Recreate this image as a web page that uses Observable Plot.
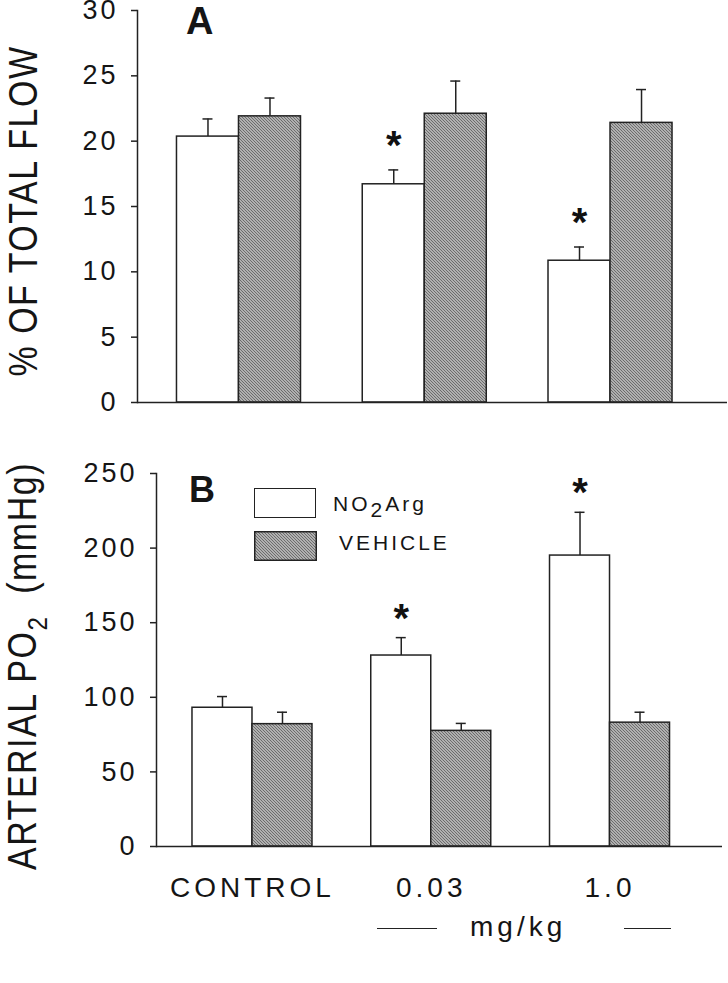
<!DOCTYPE html>
<html>
<head>
<meta charset="utf-8">
<script src="https://cdn.jsdelivr.net/npm/d3@7"></script>
<script src="https://cdn.jsdelivr.net/npm/@observablehq/plot@0.6"></script>
<style>
  html, body { margin: 0; padding: 0; background: #fff; }
  #root { position: relative; width: 728px; height: 983px; background: #fff; overflow: hidden;
          font-family: "Liberation Sans", Arial, Helvetica, sans-serif; color: #151515; }
  .panel { position: absolute; left: 0; }
  .panel svg { overflow: visible; }
  g[aria-label="y-axis tick label"] text { letter-spacing: 3px; }
  g[aria-label="x-axis tick label"] text { letter-spacing: 4px; }
  .abs { position: absolute; white-space: nowrap; }
  .ylab { position: absolute; font-size: 34px; letter-spacing: 1.5px; white-space: nowrap; line-height: 1;
          transform-origin: center center; }
  .panelLetter { position: absolute; font-weight: bold; font-size: 38px; line-height: 1; }
  .legText { position: absolute; font-size: 21px; letter-spacing: 3px; line-height: 1; }
</style>
</head>
<body>
<svg width="0" height="0" style="position:absolute">
  <defs>
    <pattern id="hatch" patternUnits="userSpaceOnUse" width="3" height="3">
      <rect width="3" height="3" fill="#b0b0b0"></rect>
      <path d="M-1,-1 L1,1 M0,0 L3,3 M2,2 L4,4" stroke="#6a6a6a" stroke-width="0.9"></path>
    </pattern>
  </defs>
</svg>
<div id="root"></div>
<script>
// ---------- data ----------
const categories = ["CONTROL", "0.03", "1.0"];
const seriesNames = ["NO2Arg", "VEHICLE"];

// Panel A: % of total flow
const flowNO2Arg = [20.35, 16.7, 10.85];
const flowNO2ArgErr = [1.35, 1.1, 1.05];
const flowVehicle = [21.9, 22.1, 21.4];
const flowVehicleErr = [1.4, 2.5, 2.55];
const flowSignificant = [false, true, true];
const flowTicks = [0, 5, 10, 15, 20, 25, 30];

// Panel B: arterial PO2 (mmHg)
const po2NO2Arg = [93, 128, 195];
const po2NO2ArgErr = [7.5, 12, 29];
const po2Vehicle = [82, 77.5, 83];
const po2VehicleErr = [8, 5, 7];
const po2Significant = [false, true, true];
const po2Ticks = [0, 50, 100, 150, 200, 250];

// ---------- drawing ----------
const root = document.getElementById("root");
const INK = "#222";

function rows(values, errs, sig, series) {
  return categories.map((c, i) => ({cat: c, series, value: values[i], err: errs[i], sig: sig ? sig[i] : false}));
}

function panel({top, height, marginTop, marginBottom, marginLeft, marginRight, yMax, ticks,
                xRange, paddingInner, n, v, showX, starDy}) {
  const paddingOuter = paddingInner / 2;
  const step = (xRange[1] - xRange[0]) / (categories.length - paddingInner + 2 * paddingOuter);
  const bw = step * (1 - paddingInner);
  const half = bw / 2;
  const capHalf = 5;
  const top_ = d => d.value + d.err;
  const marks = [
    Plot.barY(n, {x: "cat", y: "value", insetRight: half, fill: "white", stroke: INK, strokeWidth: 1.5}),
    Plot.barY(v, {x: "cat", y: "value", insetLeft: half, fill: "url(#hatch)", stroke: INK, strokeWidth: 1.5}),
    Plot.ruleX(n, {x: "cat", y1: "value", y2: top_, dx: -half / 2, stroke: INK, strokeWidth: 1.5}),
    Plot.ruleX(v, {x: "cat", y1: "value", y2: top_, dx: half / 2, stroke: INK, strokeWidth: 1.5}),
    Plot.tickY(n, {x: "cat", y: top_, insetLeft: half / 2 - capHalf, insetRight: 1.5 * half - capHalf, stroke: INK, strokeWidth: 1.5}),
    Plot.tickY(v, {x: "cat", y: top_, insetLeft: 1.5 * half - capHalf, insetRight: half / 2 - capHalf, stroke: INK, strokeWidth: 1.5}),
    Plot.text(n.filter(d => d.sig), {x: "cat", y: top_, text: () => "*", dx: -half / 2, dy: starDy,
      lineAnchor: "bottom", fontSize: 40, fontWeight: "bold", fill: "#111"}),
    Plot.ruleY([0], {stroke: INK, strokeWidth: 1.5}),
    Plot.frame({anchor: "left", stroke: INK, strokeWidth: 1.5}),
    Plot.axisY({ticks, tickSize: 6, tickPadding: 13, fontSize: 27, label: null, stroke: INK, strokeWidth: 1.5})
  ];
  if (showX) marks.push(Plot.axisX({tickSize: 0, tickPadding: 31, fontSize: 28, label: null}));
  const chart = Plot.plot({
    width: 728, height, marginTop, marginBottom, marginLeft, marginRight,
    style: {fontFamily: '"Liberation Sans", Arial, Helvetica, sans-serif', color: "#151515", background: "transparent", overflow: "visible"},
    x: {type: "band", domain: categories, range: xRange, paddingInner, paddingOuter, round: false, axis: showX ? undefined : null},
    y: {domain: [0, yMax], label: null},
    marks
  });
  const wrap = document.createElement("div");
  wrap.className = "panel";
  wrap.style.top = top + "px";
  wrap.appendChild(chart);
  root.appendChild(wrap);
}

// Panel A
panel({
  top: 1, height: 414, marginTop: 9, marginBottom: 13, marginLeft: 137, marginRight: 1,
  yMax: 30, ticks: flowTicks, xRange: [145.6, 702.9], paddingInner: 0.3324,
  n: rows(flowNO2Arg, flowNO2ArgErr, flowSignificant, "NO2Arg"),
  v: rows(flowVehicle, flowVehicleErr, null, "VEHICLE"),
  showX: false, starDy: -11
});

// Panel B
panel({
  top: 440, height: 470, marginTop: 33, marginBottom: 64, marginLeft: 156, marginRight: 6,
  yMax: 250, ticks: po2Ticks, xRange: [162.6, 698.9], paddingInner: 0.3287,
  n: rows(po2NO2Arg, po2NO2ArgErr, po2Significant, "NO2Arg"),
  v: rows(po2Vehicle, po2VehicleErr, null, "VEHICLE"),
  showX: true, starDy: -6
});

// ---------- annotations (text) ----------
function addHTML(html) {
  const d = document.createElement("div");
  d.innerHTML = html;
  while (d.firstChild) root.appendChild(d.firstChild);
}

// Panel letters
addHTML('<div class="panelLetter" style="left:186px; top:2px;">A</div>');
addHTML('<div class="panelLetter" style="left:189px; top:472px; font-size:36px;">B</div>');

// Y-axis titles (rotated)
addHTML('<div class="ylab" id="ylabA">% OF TOTAL FLOW</div>');
addHTML('<div class="ylab" id="ylabB">ARTERIAL PO<span style="font-size:24px; position:relative; top:9px;">2</span>&nbsp; (mmHg)</div>');
function placeRotated(id, cx, cy) {
  const el = document.getElementById(id);
  const w = el.offsetWidth, h = el.offsetHeight;
  el.style.left = (cx - w / 2) + "px";
  el.style.top = (cy - h / 2) + "px";
  el.style.transform = "rotate(-90deg) scaleY(1.18)";
}
placeRotated("ylabA", 22, 211);
placeRotated("ylabB", 22, 666);

// Legend
addHTML('<div class="abs" style="left:254px; top:488px; width:60px; height:28px; border:1.5px solid ' + INK + '; background:#fff;"></div>');
addHTML('<svg class="abs" style="left:254px; top:531px;" width="63" height="30"><rect x="0.75" y="0.75" width="61.5" height="28.5" fill="url(#hatch)" stroke="' + INK + '" stroke-width="1.5"></rect></svg>');
addHTML('<div class="legText" style="left:333px; top:493px;">NO<span style="font-size:21px; position:relative; top:6px;">2</span>Arg</div>');
addHTML('<div class="legText" style="left:339px; top:532px;">VEHICLE</div>');

// x unit label
addHTML('<div class="abs" style="left:377px; top:928px; width:60px; border-top:1.5px solid ' + INK + ';"></div>');
addHTML('<div class="abs" style="left:624px; top:928px; width:47px; border-top:1.5px solid ' + INK + ';"></div>');
addHTML('<div class="abs" style="left:470px; top:913px; font-size:28px; letter-spacing:4px; line-height:1;">mg/kg</div>');
</script>
</body>
</html>
